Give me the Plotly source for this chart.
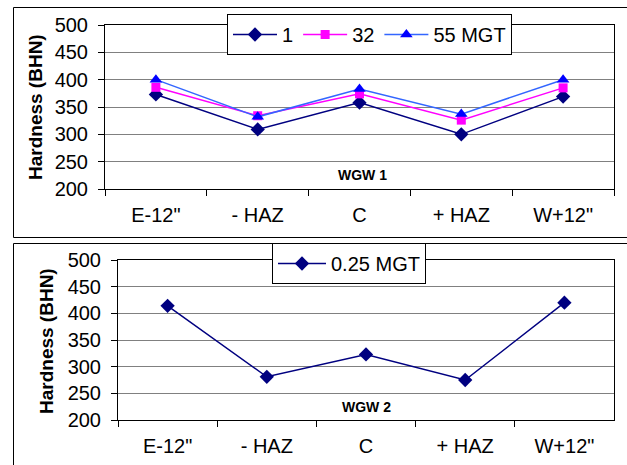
import plotly.graph_objects as go

categories = ['E-12"', '- HAZ', 'C', '+ HAZ', 'W+12"']
wgw1_1 = [373, 309, 358, 300, 369]
wgw1_32 = [386, 334, 374, 326, 385]
wgw1_55 = [400, 332, 383, 337, 400]
wgw2_025 = [414, 281, 323, 275, 420]
y_ticks = [200, 250, 300, 350, 400, 450, 500]

W, H = 627, 465
FONT = "Liberation Sans, Arial, sans-serif"

def px_x(x):
    return x / W

def px_y(y):
    return 1 - y / H

fig = go.Figure()

fig.add_trace(go.Scatter(x=categories, y=wgw1_1, name="1", mode="lines+markers",
                         line=dict(color="#000080", width=1.5),
                         marker=dict(symbol="diamond", size=11, color="#000080"),
                         xaxis="x", yaxis="y", legend="legend"))
fig.add_trace(go.Scatter(x=categories, y=wgw1_32, name="32", mode="lines+markers",
                         line=dict(color="#FF00FF", width=1.5),
                         marker=dict(symbol="square", size=9, color="#FF00FF"),
                         xaxis="x", yaxis="y", legend="legend"))
fig.add_trace(go.Scatter(x=categories, y=wgw1_55, name="55 MGT", mode="lines+markers",
                         line=dict(color="#3366FF", width=1.5),
                         marker=dict(symbol="triangle-up", size=11, color="#0000FF"),
                         xaxis="x", yaxis="y", legend="legend"))
fig.add_trace(go.Scatter(x=categories, y=wgw2_025, name="0.25 MGT", mode="lines+markers",
                         line=dict(color="#000080", width=1.5),
                         marker=dict(symbol="diamond", size=11, color="#000080"),
                         xaxis="x2", yaxis="y2", legend="legend2"))

xcommon = dict(type="category", range=[-0.5, 4.5], tickson="boundaries", ticks="outside",
               ticklen=6, tickcolor="black", showline=True, linecolor="black", linewidth=1,
               mirror=True, showgrid=False, automargin=False,
               tickfont=dict(family=FONT, size=20, color="black"),
               ticklabelstandoff=8)
ycommon = dict(range=[200, 500], tickvals=y_ticks, ticks="outside", ticklen=6, tickcolor="black",
               showline=True, linecolor="black", linewidth=1, mirror=True, showgrid=True,
               gridcolor="#808080", gridwidth=1, zeroline=False, automargin=False,
               tickfont=dict(family=FONT, size=20, color="black"), ticklabelstandoff=6)

layout = dict(
    template="none",
    width=W, height=H, margin=dict(l=0, r=0, t=0, b=0, pad=0, autoexpand=False),
    paper_bgcolor="white", plot_bgcolor="white",
    xaxis=dict(domain=[px_x(105), px_x(614)], anchor="y", **xcommon),
    yaxis=dict(domain=[px_y(189), px_y(25)], anchor="x", **ycommon),
    xaxis2=dict(domain=[px_x(118), px_x(614)], anchor="y2", **xcommon),
    yaxis2=dict(domain=[px_y(420), px_y(260)], anchor="x2", **ycommon),
    legend=dict(orientation="h", x=px_x(227), y=px_y(14), xanchor="left", yanchor="top",
                bgcolor="white", bordercolor="black", borderwidth=1,
                font=dict(family=FONT, size=20, color="black"), itemwidth=44),
    legend2=dict(orientation="h", x=px_x(272), y=px_y(243), xanchor="left", yanchor="top",
                 bgcolor="white", bordercolor="black", borderwidth=1,
                 font=dict(family=FONT, size=20, color="black"), itemwidth=48),
    showlegend=True,
    shapes=[
        dict(type="rect", xref="paper", yref="paper", x0=px_x(13.5), x1=1.05,
             y0=px_y(237.5), y1=px_y(7.5), line=dict(color="black", width=1), layer="below"),
        dict(type="rect", xref="paper", yref="paper", x0=px_x(13.5), x1=1.05,
             y0=-0.05, y1=px_y(243.5), line=dict(color="black", width=1), layer="below"),
    ],
    annotations=[
        dict(text="<b>Hardness (BHN)</b>", xref="paper", yref="paper", x=px_x(35), y=px_y(107),
             xanchor="center", yanchor="middle",
             textangle=-90, showarrow=False, font=dict(family=FONT, size=19, color="black")),
        dict(text="<b>Hardness (BHN)</b>", xref="paper", yref="paper", x=px_x(46), y=px_y(341),
             xanchor="center", yanchor="middle",
             textangle=-90, showarrow=False, font=dict(family=FONT, size=19, color="black")),
        dict(text="<b>WGW 1</b>", xref="paper", yref="paper", x=px_x(362), y=px_y(175),
             xanchor="center", yanchor="middle",
             showarrow=False, font=dict(family=FONT, size=14, color="black")),
        dict(text="<b>WGW 2</b>", xref="paper", yref="paper", x=px_x(366), y=px_y(407),
             xanchor="center", yanchor="middle",
             showarrow=False, font=dict(family=FONT, size=14, color="black")),
    ],
)
fig.update_layout(**layout)
fig.write_html("out.html")
